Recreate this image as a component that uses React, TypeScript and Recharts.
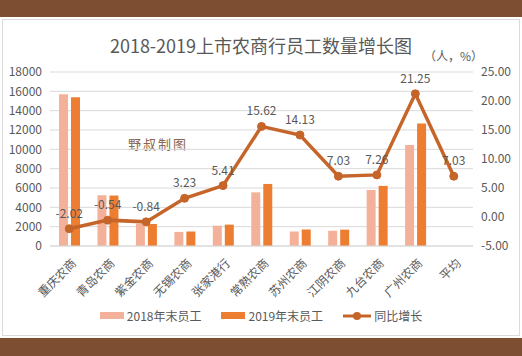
import React from "react";
import {
  ComposedChart,
  Bar,
  Line,
  XAxis,
  YAxis,
  CartesianGrid,
  LabelList,
} from "recharts";

const banks = ["重庆农商", "青岛农商", "紫金农商", "无锡农商", "张家港行", "常熟农商", "苏州农商", "江阴农商", "九台农商", "广州农商", "平均"];
const staff2018 = [15700, 5250, 2300, 1460, 2100, 5550, 1500, 1580, 5800, 10450, null];
const staff2019 = [15380, 5220, 2280, 1500, 2210, 6420, 1710, 1690, 6220, 12670, null];
const growth = [-2.02, -0.54, -0.84, 3.23, 5.41, 15.62, 14.13, 7.03, 7.26, 21.25, 7.03];

const leftTicks = [0, 2000, 4000, 6000, 8000, 10000, 12000, 14000, 16000, 18000];
const rightTicks = [-5, 0, 5, 10, 15, 20, 25];

const data = banks.map((name, i) => ({
  name,
  y2018: staff2018[i],
  y2019: staff2019[i],
  growth: growth[i],
}));

const FONT = '"Noto Sans CJK SC", "Noto Sans", sans-serif';
const TEXT = "#595959";
const C2018 = "#F4B19A";
const C2019 = "#ED7D31";
const CLINE = "#C5652A";
const BROWN = "#7E4E33";

function XTick(props: any) {
  const { x, y, payload } = props;
  return (
    <text
      x={x + 4}
      y={y + 6}
      transform={`rotate(-45, ${x + 4}, ${y + 6})`}
      textAnchor="end"
      dominantBaseline="central"
      fontSize={12}
      fill={TEXT}
      fontFamily={FONT}
    >
      {payload.value}
    </text>
  );
}

function LegendBox() {
  const item = { display: "flex", alignItems: "center", gap: 3 } as const;
  return (
    <div
      style={{
        position: "absolute",
        top: 307,
        left: 0,
        width: 522,
        display: "flex",
        justifyContent: "center",
        gap: 20,
        fontSize: 12,
        color: TEXT,
        fontFamily: FONT,
      }}
    >
      <div style={item}>
        <span style={{ width: 24, height: 7, background: C2018, display: "inline-block" }} />
        2018年末员工
      </div>
      <div style={item}>
        <span style={{ width: 24, height: 7, background: C2019, display: "inline-block" }} />
        2019年末员工
      </div>
      <div style={item}>
        <svg width={28} height={10}>
          <line x1={0} y1={5} x2={28} y2={5} stroke={CLINE} strokeWidth={3} />
          <circle cx={14} cy={5} r={4} fill={CLINE} />
        </svg>
        同比增长
      </div>
    </div>
  );
}

export default function App() {
  return (
    <div
      style={{
        position: "absolute",
        top: 0,
        left: 0,
        width: 522,
        height: 356,
        background: "#fff",
        overflow: "hidden",
        fontFamily: FONT,
      }}
    >
      <div style={{ position: "absolute", top: 0, left: 0, width: 522, height: 17, background: BROWN }} />
      <div
        style={{
          position: "absolute",
          top: 19,
          left: 2,
          width: 516,
          height: 315,
          border: "1px solid #DADADA",
        }}
      />
      <div style={{ position: "absolute", top: 338, left: 0, width: 522, height: 18, background: BROWN }} />
      <div
        style={{
          position: "absolute",
          top: 32,
          left: 0,
          width: 522,
          textAlign: "center",
          fontSize: 18,
          color: TEXT,
        }}
      >
        2018-2019上市农商行员工数量增长图
      </div>
      <div style={{ position: "absolute", top: 47, left: 424, fontSize: 12, color: TEXT }}>
        （人，%）
      </div>
      <div
        style={{
          position: "absolute",
          top: 134,
          left: 128,
          fontSize: 13,
          letterSpacing: 2,
          color: "#8A6650",
        }}
      >
        野叔制图
      </div>
      <div style={{ position: "absolute", top: 0, left: 0 }}>
        <ComposedChart
          width={522}
          height={356}
          data={data}
          margin={{ top: 72, right: 0, bottom: 50, left: 0 }}
          barSize={9}
          barGap={3}
        >
          <CartesianGrid vertical={false} stroke="#D9D9D9" yAxisId="left" />
          <XAxis
            dataKey="name"
            tick={<XTick />}
            tickLine={false}
            axisLine={{ stroke: "#D9D9D9" }}
            interval={0}
            height={60}
          />
          <YAxis
            yAxisId="left"
            domain={[0, 18000]}
            ticks={leftTicks}
            interval={0}
            width={50}
            tickLine={false}
            axisLine={false}
            tick={{ fontSize: 12, fill: TEXT, fontFamily: FONT }}
          />
          <YAxis
            yAxisId="right"
            orientation="right"
            domain={[-5, 25]}
            ticks={rightTicks}
            interval={0}
            width={49}
            tickLine={false}
            axisLine={false}
            tickFormatter={(v: number) => v.toFixed(2)}
            tick={{ fontSize: 12, fill: TEXT, fontFamily: FONT }}
          />
          <Bar yAxisId="left" dataKey="y2018" fill={C2018} isAnimationActive={false} />
          <Bar yAxisId="left" dataKey="y2019" fill={C2019} isAnimationActive={false} />
          <Line
            yAxisId="right"
            dataKey="growth"
            stroke={CLINE}
            strokeWidth={3.5}
            dot={{ r: 4, fill: CLINE, stroke: CLINE, strokeWidth: 1 }}
            isAnimationActive={false}
          >
            <LabelList
              dataKey="growth"
              position="top"
              offset={11}
              fontSize={12}
              fill={TEXT}
              fontFamily={FONT}
              formatter={(v: number) => v.toFixed(2)}
            />
          </Line>
        </ComposedChart>
      </div>
      <LegendBox />
    </div>
  );
}
